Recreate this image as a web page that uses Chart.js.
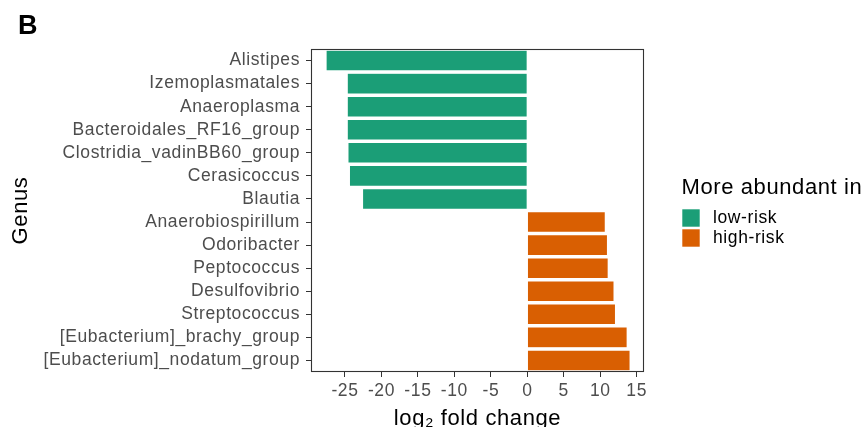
<!DOCTYPE html>
<html>
<head>
<meta charset="utf-8">
<script src="https://cdn.jsdelivr.net/npm/chart.js@4.4.0/dist/chart.umd.min.js"></script>
<style>
  body { margin: 0; background: #fff; }
</style>
</head>
<body>
<canvas id="fc" width="866" height="427"></canvas>
<script>
// genus order top to bottom
const genus = [
    'Alistipes', 'Izemoplasmatales', 'Anaeroplasma', 'Bacteroidales_RF16_group',
    'Clostridia_vadinBB60_group', 'Cerasicoccus', 'Blautia', 'Anaerobiospirillum',
    'Odoribacter', 'Peptococcus', 'Desulfovibrio', 'Streptococcus',
    '[Eubacterium]_brachy_group', '[Eubacterium]_nodatum_group'
];
// log2 fold change, split by group
const lowRisk  = [-27.6, -24.7, -24.7, -24.7, -24.6, -24.4, -22.6, null, null, null, null, null, null, null];
const highRisk = [null, null, null, null, null, null, null, 10.7, 11.0, 11.1, 11.9, 12.1, 13.7, 14.1];
const xTicks = [-25, -20, -15, -10, -5, 0, 5, 10, 15];

const FONT = "'Liberation Sans', Arial, sans-serif";
Chart.defaults.font.family = FONT;

// frame, panel letter and legend
const extras = {
    id: 'extras',
    beforeDraw(chart) {
        // reference text is a bit wider than Liberation Sans
        chart.ctx.letterSpacing = '0.6px';
    },
    afterDraw(chart) {
        const ctx = chart.ctx;
        const a = chart.chartArea;
        ctx.save();
        ctx.strokeStyle = '#333333';
        ctx.lineWidth = 1.1;
        ctx.strokeRect(a.left + 0.5, a.top + 0.5, a.right - a.left - 1, a.bottom - a.top - 1);

        ctx.fillStyle = '#000';
        ctx.textBaseline = 'alphabetic';
        ctx.textAlign = 'left';
        ctx.font = 'bold 27px ' + FONT;
        ctx.fillText('B', 18, 33.5);

        ctx.font = '22px ' + FONT;
        ctx.fillText('More abundant in', 681.5, 193.5);

        ctx.font = '17.5px ' + FONT;
        ctx.textBaseline = 'middle';
        chart.data.datasets.forEach((ds, i) => {
            const y = 209 + i * 20;
            ctx.fillStyle = ds.backgroundColor;
            ctx.fillRect(682, y, 18, 18);
            ctx.strokeStyle = '#ffffff';
            ctx.lineWidth = 0.6;
            ctx.strokeRect(682, y, 18, 18);
            ctx.fillStyle = '#000';
            ctx.fillText(ds.label, 713, y + 9.5);
        });
        ctx.restore();
    }
};

const fcChart = new Chart(document.getElementById('fc').getContext('2d'), {
    type: 'bar',
    data: {
        labels: genus,
        datasets: [
            {
                label: 'low-risk',
                data: lowRisk,
                backgroundColor: '#1B9E77',
                borderColor: '#ffffff',
                borderWidth: 0.6,
                grouped: false,
                categoryPercentage: 1,
                barPercentage: 0.9
            },
            {
                label: 'high-risk',
                data: highRisk,
                backgroundColor: '#D95F02',
                borderColor: '#ffffff',
                borderWidth: 0.6,
                grouped: false,
                categoryPercentage: 1,
                barPercentage: 0.9
            }
        ]
    },
    options: {
        indexAxis: 'y',
        responsive: false,
        animation: false,
        layout: { padding: { top: 49, right: 222, left: 0, bottom: 0 } },
        scales: {
            x: {
                type: 'linear',
                min: -29.66,
                max: 16.0,
                afterBuildTicks: scale => { scale.ticks = xTicks.map(v => ({ value: v })); },
                afterFit: scale => { scale.height = 55; },
                grid: { drawOnChartArea: false, drawTicks: true, tickLength: 5, color: '#333333', lineWidth: 1 },
                border: { display: false },
                ticks: { color: '#4D4D4D', font: { size: 17.5 }, padding: 4, maxRotation: 0 },
                title: {
                    display: true,
                    text: 'log₂ fold change',
                    color: '#000',
                    font: { size: 22 },
                    padding: { top: 0, bottom: -5 }
                }
            },
            y: {
                afterFit: scale => { scale.width = 311; },
                grid: { drawOnChartArea: false, drawTicks: true, tickLength: 5, offset: false, color: '#333333', lineWidth: 1 },
                border: { display: false },
                ticks: { color: '#4D4D4D', font: { size: 17.5 }, padding: 6, autoSkip: false },
                title: {
                    display: true,
                    text: 'Genus',
                    color: '#000',
                    font: { size: 22 },
                    padding: { top: 8, bottom: 0 }
                }
            }
        },
        plugins: {
            legend: { display: false },
            tooltip: { enabled: false }
        }
    },
    plugins: [extras]
});
</script>
</body>
</html>
